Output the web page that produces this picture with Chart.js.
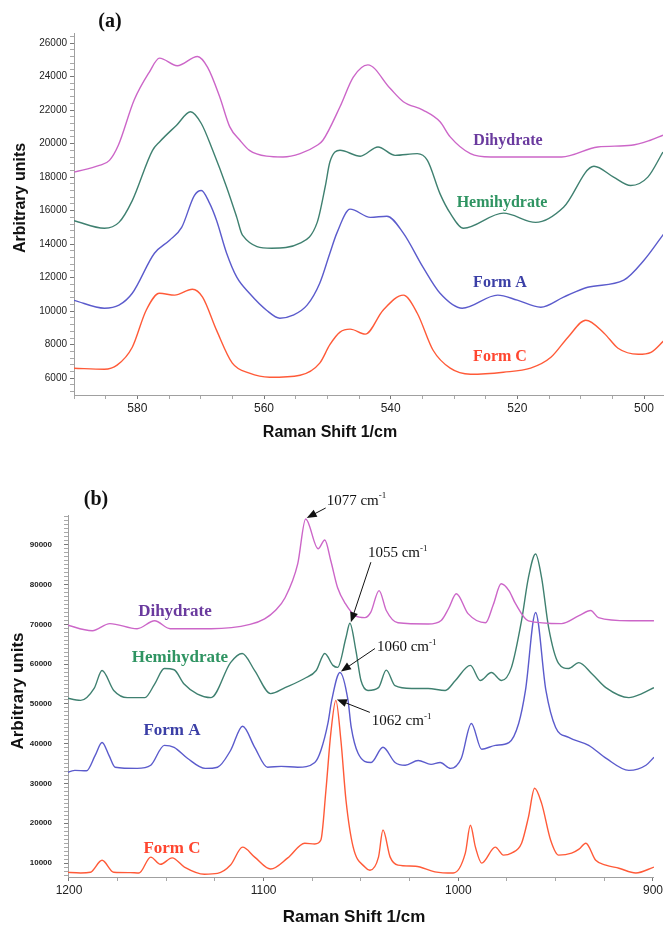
<!DOCTYPE html>
<html>
<head>
<meta charset="utf-8">
<title>Raman spectra</title>
<script src="https://cdn.jsdelivr.net/npm/chart.js@4/dist/chart.umd.min.js"></script>
<style>
  html, body { margin: 0; padding: 0; background: #fff; }
  canvas { display: block; }
</style>
</head>
<body>
<canvas id="chart-a" width="665" height="460"></canvas>
<canvas id="chart-b" width="665" height="468"></canvas>
<script>
'use strict';

/* (a) 590 - 497 1/cm */
const aDihydrateShift = [590, 586, 584.4, 583, 580.5, 578.1, 576.5, 573.7, 570.5, 568.9, 567, 565.4, 563.8, 562.3, 559.6, 557, 554.3, 551.6, 550.7, 548, 545.9, 543.6, 540.1, 538, 534.9, 532.2, 530.6, 527.4, 524.2, 513, 507.3, 502, 499, 497];
const aDihydrateCounts = [18300, 18700, 19000, 19900, 22600, 24270, 25100, 24650, 25200, 24550, 22800, 21000, 20200, 19600, 19250, 19200, 19400, 19900, 20200, 22200, 23970, 24700, 23300, 22500, 22000, 21300, 20400, 19400, 19200, 19200, 19800, 19900, 20200, 20500];

const aHemihydrateShift = [590, 585.2, 582.9, 580.8, 577.6, 576.5, 573.8, 571.6, 569.9, 568.1, 565.9, 564.3, 563.4, 558.8, 554.3, 551.6, 550.3, 549.6, 548, 544.8, 542, 539.3, 535.8, 534.2, 532.2, 530.6, 528.5, 522.2, 517.1, 512.7, 507.9, 504.8, 502.1, 499.4, 497];
const aHemihydrateCounts = [15400, 14950, 15300, 16600, 19600, 20100, 21100, 21900, 21200, 19600, 17400, 15600, 14540, 13760, 14060, 15300, 17500, 18900, 19600, 19250, 19800, 19300, 19400, 19000, 17000, 15850, 14950, 15850, 15300, 16200, 18650, 18000, 17500, 18000, 19500];

const aFormAShift = [590, 585.2, 582.9, 580.8, 577.3, 574.9, 573, 571, 569.9, 568.6, 567.5, 565.9, 564.3, 562.3, 559.6, 557.5, 555.4, 553.2, 551.2, 549.6, 548.5, 546.4, 543.2, 540.6, 538, 534.9, 532.2, 528.7, 523.1, 520, 516.3, 512.7, 508.9, 503.2, 500, 496.8];
const aFormACounts = [10650, 10180, 10360, 11070, 13460, 14240, 15000, 16900, 17200, 16450, 15430, 13460, 12030, 11070, 10060, 9580, 9760, 10360, 11670, 13460, 14660, 16090, 15600, 15670, 14660, 12630, 11070, 10180, 10960, 10660, 10240, 10840, 11430, 11850, 13040, 14660];

const aFormCShift = [590, 585.2, 583.2, 580.8, 578.6, 576.5, 574.1, 571.3, 569.7, 567.5, 565, 562.3, 559.1, 554.3, 551.2, 549.6, 548, 546.4, 544, 541.2, 538, 535.8, 533.3, 530.6, 527.4, 522.2, 517.9, 514.7, 512, 509.2, 506.3, 504.1, 500.9, 498.9, 496.8];
const aFormCCounts = [6600, 6540, 6780, 7850, 10060, 11070, 10960, 11310, 10840, 8870, 6900, 6300, 6060, 6180, 6900, 8000, 8750, 8930, 8630, 10060, 10960, 9880, 7670, 6600, 6240, 6360, 6600, 7250, 8450, 9460, 8690, 7790, 7430, 7550, 8270];

/* (b) 1200 - 900 1/cm */
const bDihydrateShift = [1202, 1188, 1179, 1165, 1156, 1148, 1127, 1107, 1099.5, 1094, 1089, 1082.5, 1078.4, 1072, 1068.6, 1065.5, 1062, 1058, 1053, 1048, 1045, 1040.7, 1037, 1031, 1015.5, 1008.8, 1005, 1001, 995, 986, 982, 978, 974, 970.6, 964, 947, 938, 932, 928, 912, 899.5];
const bDihydrateCounts = [70000, 68400, 70200, 68900, 70900, 68900, 68900, 70000, 71400, 73500, 76700, 85200, 96500, 89000, 91200, 86000, 79200, 75200, 72200, 71700, 73000, 78500, 73500, 70400, 70100, 71000, 74000, 77700, 72700, 70400, 75000, 80200, 78500, 75200, 70900, 70200, 72200, 73500, 71700, 70900, 70900];

const bHemihydrateShift = [1202, 1194, 1187, 1183, 1177, 1170, 1161, 1156, 1151, 1146, 1141, 1134, 1127, 1117, 1111, 1104.6, 1096.4, 1089, 1079, 1073, 1068.6, 1064.4, 1062, 1057.7, 1055.7, 1052.6, 1050, 1046.4, 1041, 1037, 1032.5, 1024, 1015.5, 1006.7, 1001.5, 993.8, 988.7, 983, 977.8, 972.7, 967.5, 964, 960.3, 957.2, 953.6, 948.5, 943.3, 938.1, 931.4, 924.2, 912.4, 905.7, 899.5];
const bHemihydrateCounts = [51600, 50900, 54000, 58400, 53400, 51600, 51600, 55000, 58900, 58600, 55100, 52500, 51600, 60400, 62700, 58400, 52600, 54100, 56400, 58400, 62700, 59700, 59200, 66700, 70300, 63400, 55900, 53400, 54100, 58500, 54600, 53900, 53900, 53400, 55900, 59700, 55900, 57900, 55900, 59200, 71000, 81700, 87700, 81700, 69200, 60200, 58900, 60400, 57600, 54100, 51600, 52600, 54100];

const bFormAShift = [1202, 1197, 1191, 1186.6, 1183, 1179.4, 1176.3, 1165, 1158, 1151, 1146, 1139, 1130, 1123.7, 1117, 1110.8, 1104.6, 1098, 1091, 1082.5, 1073.7, 1070.6, 1067, 1065, 1060.8, 1056.7, 1055, 1051.5, 1044.8, 1038.7, 1032.5, 1027.3, 1020.6, 1014, 1009.3, 1004, 998.5, 993.3, 988, 981, 974, 969, 965.5, 960.3, 955, 950, 943.3, 933, 924, 912.4, 903.6, 899.5];
const bFormACounts = [32600, 33300, 33200, 37000, 40300, 37000, 34100, 33800, 34600, 39600, 39100, 36300, 33800, 34100, 38300, 44400, 39100, 34100, 34300, 34100, 35300, 38300, 45100, 51000, 57900, 51000, 44100, 37600, 35300, 39100, 35300, 34600, 35800, 34800, 35300, 33800, 36300, 45100, 38600, 39600, 40300, 45100, 53400, 73000, 53400, 44100, 41600, 39600, 36300, 33300, 34600, 36600];

const bFormCShift = [1202, 1194, 1189, 1183, 1177, 1168.6, 1164, 1158, 1153, 1147, 1140.7, 1130.4, 1123.7, 1117, 1110.8, 1104.6, 1096.4, 1087.6, 1078.9, 1073.7, 1070.6, 1068, 1065.5, 1062.9, 1060.3, 1057.7, 1054, 1048, 1045.4, 1041, 1038.7, 1035, 1031, 1022, 1012, 1002.6, 996.4, 993.8, 991.2, 988, 981, 976.8, 972.7, 967.5, 964, 960.8, 957.2, 952.6, 948.5, 941.8, 938, 934.5, 929.4, 924.2, 917.5, 908.8, 899.5];
const bFormCCounts = [7700, 7500, 7700, 10700, 7700, 7600, 7500, 11500, 9700, 11300, 9000, 7200, 7400, 9500, 14000, 11500, 8500, 11300, 15000, 14800, 15800, 28300, 42600, 50900, 40800, 25800, 14000, 9000, 8200, 11500, 18300, 11500, 9500, 9200, 7800, 7500, 12500, 19500, 14000, 10000, 14000, 12000, 12500, 15000, 21500, 28800, 25000, 15800, 12000, 12500, 13500, 15000, 10700, 9500, 8700, 7500, 9000];

const SANS = '"Liberation Sans", Arial, sans-serif';
const SERIF = '"Liberation Serif", "Times New Roman", serif';

const colors = {
    dihydrate: '#cc66c8', dihydrateText: '#6a3a9e',
    hemihydrate: '#3f8070', hemihydrateText: '#2f9462',
    formA: '#5b5bcc', formAText: '#3b3fa6',
    formC: '#ff5a38', formCText: '#ff4630',
};

function series(shift, counts, color) {
    return {
        data: shift.map((x, i) => ({ x, y: counts[i] })),
        borderColor: color,
        borderWidth: 1.4,
        pointRadius: 0,
        fill: false,
        cubicInterpolationMode: 'monotone',
    };
}

/* text drawn on top of each panel (canvas px) */
const textsA = [
    { t: '(a)', x: 110, y: 22, font: `bold 20px ${SERIF}`, c: '#111' },
    { t: 'Arbitrary units', x: 21, y: 198, font: `bold 16px ${SANS}`, c: '#111', rot: true },
    { t: 'Raman Shift 1/cm', x: 330, y: 433, font: `bold 16px ${SANS}`, c: '#111' },
    { t: 'Dihydrate', x: 508, y: 141, font: `bold 16px ${SERIF}`, c: colors.dihydrateText },
    { t: 'Hemihydrate', x: 502, y: 203, font: `bold 16px ${SERIF}`, c: colors.hemihydrateText },
    { t: 'Form A', x: 500, y: 283, font: `bold 16px ${SERIF}`, c: colors.formAText },
    { t: 'Form C', x: 500, y: 357, font: `bold 16px ${SERIF}`, c: colors.formCText },
];
const textsB = [
    { t: '(b)', x: 96, y: 40, font: `bold 20px ${SERIF}`, c: '#111' },
    { t: 'Arbitrary units', x: 18, y: 231, font: `bold 17px ${SANS}`, c: '#111', rot: true },
    { t: 'Raman Shift 1/cm', x: 354, y: 457, font: `bold 17px ${SANS}`, c: '#111' },
    { t: 'Dihydrate', x: 175, y: 152, font: `bold 17px ${SERIF}`, c: colors.dihydrateText },
    { t: 'Hemihydrate', x: 180, y: 198, font: `bold 17px ${SERIF}`, c: colors.hemihydrateText },
    { t: 'Form A', x: 172, y: 271, font: `bold 17px ${SERIF}`, c: colors.formAText },
    { t: 'Form C', x: 172, y: 389, font: `bold 17px ${SERIF}`, c: colors.formCText },
];

/* peak callouts in (b): tip sits on the series point, offsets in px */
const peakNotes = [
    { label: '1077', shift: bDihydrateShift, counts: bDihydrateCounts, at: 1078.4, tail: [19, -10], text: [20, -17] },
    { label: '1055', shift: bHemihydrateShift, counts: bHemihydrateCounts, at: 1055.7, tail: [20, -60], text: [17, -69] },
    { label: '1060', shift: bFormAShift, counts: bFormACounts, at: 1060.8, tail: [34, -23], text: [36, -24] },
    { label: '1062', shift: bFormCShift, counts: bFormCCounts, at: 1062.9, tail: [33, 13], text: [35, 22] },
];

function drawTexts(ctx, list) {
    list.forEach((d) => {
        ctx.save();
        ctx.font = d.font;
        ctx.fillStyle = d.c;
        ctx.textAlign = 'center';
        ctx.textBaseline = 'middle';
        ctx.translate(d.x, d.y);
        if (d.rot) ctx.rotate(-Math.PI / 2);
        ctx.fillText(d.t, 0, 0);
        ctx.restore();
    });
}

function drawPeakNotes(chart) {
    const { ctx } = chart;
    const xs = chart.scales.x, ys = chart.scales.y;
    peakNotes.forEach((n) => {
        const i = n.shift.indexOf(n.at);
        const tx = xs.getPixelForValue(n.at) + 1;
        const ty = ys.getPixelForValue(n.counts[i]) - 1;
        const sx = tx + n.tail[0], sy = ty + n.tail[1];
        const ang = Math.atan2(ty - sy, tx - sx);
        ctx.save();
        ctx.strokeStyle = '#111';
        ctx.fillStyle = '#111';
        ctx.lineWidth = 1;
        ctx.beginPath();
        ctx.moveTo(sx, sy);
        ctx.lineTo(tx - 7 * Math.cos(ang), ty - 7 * Math.sin(ang));
        ctx.stroke();
        ctx.beginPath();
        ctx.moveTo(tx, ty);
        ctx.lineTo(tx - 10 * Math.cos(ang) + 4 * Math.sin(ang), ty - 10 * Math.sin(ang) - 4 * Math.cos(ang));
        ctx.lineTo(tx - 10 * Math.cos(ang) - 4 * Math.sin(ang), ty - 10 * Math.sin(ang) + 4 * Math.cos(ang));
        ctx.closePath();
        ctx.fill();
        // label "NNNN cm-1"
        const lx = tx + n.text[0], ly = ty + n.text[1];
        ctx.font = `15px ${SERIF}`;
        ctx.textAlign = 'left';
        ctx.textBaseline = 'middle';
        const main = n.label + ' cm';
        ctx.fillText(main, lx, ly);
        const w = ctx.measureText(main).width;
        ctx.font = `9px ${SERIF}`;
        ctx.fillText('-1', lx + w, ly - 5);
        ctx.restore();
    });
}

// min/max are multiples of step, so Chart.js keeps the step as is
function axis(opts) {
    return {
        type: 'linear',
        reverse: !!opts.reverse,
        min: opts.min,
        max: opts.max,
        afterFit: opts.fit,
        border: { display: true, color: '#a0a0a0', width: 1 },
        grid: {
            drawOnChartArea: false,
            drawTicks: true,
            tickLength: 4,
            tickColor: (c) => {
                const v = c.tick ? c.tick.value : NaN;
                if (v % opts.major === 0) return '#777';
                if (v % opts.minor === 0) return '#a8a8a8';
                return 'rgba(0,0,0,0)';
            },
        },
        ticks: {
            stepSize: opts.step,
            autoSkip: false,
            includeBounds: false,
            maxRotation: 0,
            minRotation: 0,
            padding: opts.pad,
            color: '#222',
            font: opts.font,
            callback: (v) => (v % opts.major === 0 ? String(v) : ''),
        },
    };
}

function makePanel(id, datasets, scales, padding, texts, notes) {
    return new Chart(document.getElementById(id), {
        type: 'line',
        data: { datasets },
        options: {
            responsive: false,
            animation: false,
            events: [],
            layout: { padding },
            plugins: { legend: { display: false }, tooltip: { enabled: false } },
            scales,
        },
        plugins: [{
            id: 'decor',
            afterDraw(chart) {
                drawTexts(chart.ctx, texts);
                if (notes) drawPeakNotes(chart);
            },
        }],
    });
}

makePanel('chart-a', [
    series(aDihydrateShift, aDihydrateCounts, colors.dihydrate),
    series(aHemihydrateShift, aHemihydrateCounts, colors.hemihydrate),
    series(aFormAShift, aFormACounts, colors.formA),
    series(aFormCShift, aFormCCounts, colors.formC),
], {
    x: axis({ reverse: true, min: 497, max: 590, step: 5, minor: 5, major: 20, pad: 2,
        font: { family: SANS, size: 12 }, fit: (s) => { s.height = 65; } }),
    y: axis({ min: 5000, max: 26600, step: 200, minor: 400, major: 2000, pad: 3,
        font: { family: SANS, size: 10 }, fit: (s) => { s.width = 74; } }),
}, { top: 33, right: 2, left: 0, bottom: 0 }, textsA, false);

makePanel('chart-b', [
    series(bDihydrateShift, bDihydrateCounts, colors.dihydrate),
    series(bHemihydrateShift, bHemihydrateCounts, colors.hemihydrate),
    series(bFormAShift, bFormACounts, colors.formA),
    series(bFormCShift, bFormCCounts, colors.formC),
], {
    x: axis({ reverse: true, min: 899.5, max: 1200.5, step: 25, minor: 25, major: 100, pad: 2,
        font: { family: SANS, size: 12 }, fit: (s) => { s.height = 51; } }),
    y: axis({ min: 6500, max: 97500, step: 500, minor: 1000, major: 10000, pad: 12,
        font: { family: SANS, size: 8, weight: 'bold' }, fit: (s) => { s.width = 68; } }),
}, { top: 55, right: 9, left: 0, bottom: 0 }, textsB, true);
</script>
</body>
</html>
